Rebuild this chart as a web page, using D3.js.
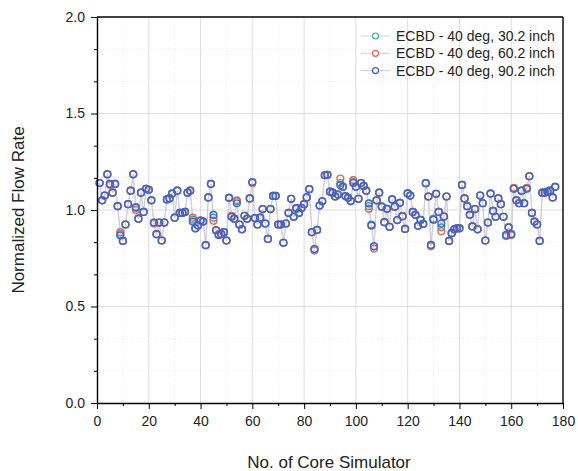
<!DOCTYPE html>
<html>
<head>
<meta charset="utf-8">
<script src="https://cdn.jsdelivr.net/npm/d3@7"></script>
<style>
  body { margin: 0; background: #fff; }
  text { font-family: "Liberation Sans", Arial, sans-serif; }
</style>
</head>
<body>
<svg id="canvas"></svg>
<script>
// data
const coreNo = d3.range(1, 178);

const flow90 = [
  1.14, 1.05, 1.075, 1.185, 1.135, 1.09, 1.135, 1.02, 0.868, 0.84,
  0.925, 1.03, 1.10, 1.185, 1.015, 0.955, 1.09, 0.99, 1.11, 1.105,
  1.05, 0.935, 0.875, 0.935, 0.842, 0.935, 1.055, 1.06, 1.085, 0.96,
  1.10, 0.985, 0.985, 0.99, 1.09, 1.10, 0.94, 0.905, 0.92, 0.945,
  0.94, 0.818, 1.065, 1.135, 0.975, 0.895, 0.87, 0.875, 0.885, 0.842,
  1.063, 0.965, 0.955, 1.035, 0.925, 0.90, 0.97, 0.955, 1.06, 1.145,
  0.958, 0.925, 0.96, 1.005, 0.93, 0.85, 1.005, 1.073, 1.073, 0.925,
  0.925, 0.83, 0.93, 0.985, 1.058, 0.965, 1.01, 0.985, 1.01, 1.03,
  1.065, 1.108, 0.885, 0.798, 0.897, 1.023, 1.045, 1.18, 1.182, 1.095,
  1.09, 1.07, 1.08, 1.128, 1.12, 1.072, 1.063, 1.046, 1.14, 1.12,
  1.058, 1.14, 1.125, 1.10, 1.034, 0.92, 0.812, 1.05, 1.09, 1.017,
  0.937, 1.006, 0.913, 1.055, 1.017, 0.948, 1.037, 0.968, 0.902, 1.086,
  1.075, 0.99, 0.975, 0.918, 0.949, 0.928, 1.139, 1.07, 0.819, 0.95,
  1.084, 0.99, 0.93, 0.966, 1.07, 0.84, 0.88, 0.90, 0.905, 0.905,
  1.13, 1.06, 1.02, 0.975, 0.915, 1.005, 0.90, 1.075, 1.035, 0.842,
  0.935, 1.085, 0.995, 0.965, 1.06, 1.03, 0.965, 0.87, 0.91, 0.875,
  1.11, 1.05, 1.035, 1.10, 1.035, 1.11, 1.175, 0.985, 0.94, 0.925,
  0.84, 1.09, 1.09, 1.095, 1.10, 1.065, 1.12
];

const flow60 = [
  1.14, 1.05, 1.075, 1.185, 1.13, 1.09, 1.135, 1.02, 0.885, 0.84,
  0.925, 1.03, 1.10, 1.185, 1.0, 0.955, 1.09, 0.99, 1.11, 1.105,
  1.05, 0.93, 0.875, 0.935, 0.842, 0.935, 1.055, 1.06, 1.085, 0.96,
  1.10, 0.985, 0.985, 0.99, 1.09, 1.10, 0.96, 0.905, 0.92, 0.945,
  0.94, 0.818, 1.065, 1.135, 0.944, 0.895, 0.875, 0.875, 0.885, 0.842,
  1.063, 0.97, 0.955, 1.05, 0.925, 0.90, 0.97, 0.955, 1.06, 1.14,
  0.958, 0.925, 0.96, 1.005, 0.93, 0.85, 1.005, 1.073, 1.073, 0.925,
  0.925, 0.83, 0.93, 0.985, 1.058, 0.965, 1.01, 0.985, 1.01, 1.03,
  1.065, 1.108, 0.885, 0.79, 0.897, 1.023, 1.045, 1.18, 1.182, 1.095,
  1.09, 1.07, 1.08, 1.163, 1.12, 1.072, 1.063, 1.046, 1.155, 1.12,
  1.058, 1.14, 1.125, 1.10, 1.006, 0.92, 0.80, 1.05, 1.09, 1.017,
  0.937, 1.006, 0.913, 1.055, 1.017, 0.948, 1.037, 0.968, 0.902, 1.086,
  1.075, 0.99, 0.975, 0.918, 0.949, 0.928, 1.139, 1.07, 0.812, 0.95,
  1.084, 0.99, 0.89, 0.966, 1.07, 0.84, 0.88, 0.90, 0.905, 0.905,
  1.13, 1.06, 1.02, 0.975, 0.915, 1.005, 0.90, 1.075, 1.035, 0.842,
  0.935, 1.085, 0.995, 0.965, 1.06, 1.03, 0.965, 0.865, 0.91, 0.87,
  1.115, 1.05, 1.035, 1.10, 1.035, 1.115, 1.175, 0.985, 0.94, 0.925,
  0.84, 1.09, 1.09, 1.095, 1.10, 1.065, 1.12
];

const flow30 = [
  1.14, 1.05, 1.075, 1.185, 1.135, 1.09, 1.135, 1.02, 0.875, 0.84,
  0.925, 1.03, 1.10, 1.185, 1.01, 0.955, 1.09, 0.99, 1.11, 1.105,
  1.05, 0.935, 0.875, 0.935, 0.842, 0.935, 1.055, 1.06, 1.085, 0.96,
  1.10, 0.985, 0.985, 0.99, 1.09, 1.10, 0.95, 0.905, 0.92, 0.945,
  0.94, 0.818, 1.065, 1.135, 0.96, 0.895, 0.87, 0.875, 0.885, 0.842,
  1.063, 0.965, 0.955, 1.045, 0.925, 0.90, 0.97, 0.955, 1.06, 1.145,
  0.958, 0.925, 0.96, 1.005, 0.93, 0.85, 1.005, 1.073, 1.073, 0.925,
  0.925, 0.83, 0.93, 0.985, 1.058, 0.965, 1.005, 0.985, 1.01, 1.03,
  1.065, 1.108, 0.885, 0.798, 0.897, 1.023, 1.045, 1.18, 1.182, 1.095,
  1.09, 1.07, 1.08, 1.14, 1.12, 1.072, 1.063, 1.046, 1.145, 1.12,
  1.058, 1.14, 1.125, 1.10, 1.02, 0.925, 0.812, 1.05, 1.09, 1.017,
  0.937, 1.006, 0.913, 1.055, 1.017, 0.948, 1.037, 0.968, 0.902, 1.086,
  1.075, 0.99, 0.975, 0.918, 0.949, 0.928, 1.139, 1.07, 0.819, 0.955,
  1.084, 0.99, 0.91, 0.966, 1.07, 0.84, 0.88, 0.90, 0.905, 0.905,
  1.13, 1.06, 1.02, 0.975, 0.915, 1.005, 0.90, 1.075, 1.035, 0.842,
  0.935, 1.085, 0.995, 0.965, 1.06, 1.03, 0.965, 0.87, 0.91, 0.875,
  1.11, 1.05, 1.035, 1.10, 1.035, 1.11, 1.175, 0.985, 0.94, 0.925,
  0.84, 1.09, 1.09, 1.095, 1.10, 1.065, 1.12
];

const seriesNames = ["ECBD - 40 deg, 30.2 inch", "ECBD - 40 deg, 60.2 inch", "ECBD - 40 deg, 90.2 inch"];
const xTicks = [0, 20, 40, 60, 80, 100, 120, 140, 160, 180];
const yTicks = [0.0, 0.5, 1.0, 1.5, 2.0];

const colors = ["#3aa6a2", "#e2625e", "#3d64cc"];
const lineColors = ["#bfe0de", "#efc4c2", "#c4cde8"];

const svg = d3.select("#canvas");
const width = 578;
const height = 471;
svg.attr("width", width).attr("height", height);

const marginTop = 17;
const marginRight = 15;
const marginBottom = 68;
const marginLeft = 97;

const xScale = d3.scaleLinear()
    .domain([0, 180])
    .range([marginLeft, width - marginRight]);

const yScale = d3.scaleLinear()
    .domain([0, 2])
    .range([height - marginBottom, marginTop]);

// minor positions (1 minor between x majors, 2 between y majors)
const xMinor = d3.range(10, 180, 20);
const yMinor = d3.range(1, 12).map(i => i / 6).filter((d, i) => (i + 1) % 3 !== 0);

// grid
const grid = svg.append("g");
grid.selectAll(".gx").data(xTicks.slice(1, -1)).join("line")
    .attr("x1", d => xScale(d)).attr("x2", d => xScale(d))
    .attr("y1", yScale(0)).attr("y2", yScale(2))
    .attr("stroke", "#dcdcdc").attr("stroke-width", 1);
grid.selectAll(".gxm").data(xMinor).join("line")
    .attr("x1", d => xScale(d)).attr("x2", d => xScale(d))
    .attr("y1", yScale(0)).attr("y2", yScale(2))
    .attr("stroke", "#ececec").attr("stroke-width", 1).attr("stroke-dasharray", "1,2");
grid.selectAll(".gy").data(yTicks.slice(1, -1)).join("line")
    .attr("x1", xScale(0)).attr("x2", xScale(180))
    .attr("y1", d => yScale(d)).attr("y2", d => yScale(d))
    .attr("stroke", "#dcdcdc").attr("stroke-width", 1);
grid.selectAll(".gym").data(yMinor).join("line")
    .attr("x1", xScale(0)).attr("x2", xScale(180))
    .attr("y1", d => yScale(d)).attr("y2", d => yScale(d))
    .attr("stroke", "#ececec").attr("stroke-width", 1).attr("stroke-dasharray", "1,2");

// series
const allSeries = [flow30, flow60, flow90];
const line = d3.line()
    .x((d, i) => xScale(coreNo[i]))
    .y(d => yScale(d));

allSeries.forEach((vals, s) => {
    svg.append("path")
        .datum(vals)
        .attr("fill", "none")
        .attr("stroke", lineColors[s])
        .attr("stroke-width", 0.8)
        .attr("d", line);
});

allSeries.forEach((vals, s) => {
    svg.append("g")
        .selectAll("circle")
        .data(vals)
        .join("circle")
            .attr("cx", (d, i) => xScale(coreNo[i]))
            .attr("cy", d => yScale(d))
            .attr("r", 3.4)
            .attr("fill", "none")
            .attr("stroke", colors[s])
            .attr("stroke-width", 1.4);
});

// axes
const tickFont = g => g.selectAll("text")
    .attr("font-size", 14)
    .attr("fill", "#222")
    .attr("font-family", "'Liberation Sans', Arial, sans-serif");

svg.append("g")
    .attr("transform", `translate(0,${yScale(0)})`)
    .call(d3.axisBottom(xScale).tickValues(xMinor).tickSize(3).tickFormat(""))
    .call(g => g.select(".domain").remove());

svg.append("g")
    .attr("transform", `translate(0,${yScale(0)})`)
    .call(d3.axisBottom(xScale).tickValues(xTicks).tickSize(6).tickPadding(7).tickSizeOuter(0))
    .call(tickFont)
    .call(g => g.select(".domain").attr("stroke-width", 1.4));

svg.append("g")
    .attr("transform", `translate(${xScale(0)},0)`)
    .call(d3.axisLeft(yScale).tickValues(yMinor).tickSize(3).tickFormat(""))
    .call(g => g.select(".domain").remove());

svg.append("g")
    .attr("transform", `translate(${xScale(0)},0)`)
    .call(d3.axisLeft(yScale).tickValues(yTicks).tickSize(6).tickPadding(6).tickSizeOuter(0).tickFormat(d3.format(".1f")))
    .call(tickFont)
    .call(g => g.select(".domain").attr("stroke-width", 1.4));

// frame top / right
svg.append("line")
    .attr("x1", xScale(0)).attr("x2", xScale(180))
    .attr("y1", yScale(2)).attr("y2", yScale(2))
    .attr("stroke", "#000").attr("stroke-width", 1.4);
svg.append("line")
    .attr("x1", xScale(180)).attr("x2", xScale(180))
    .attr("y1", yScale(2)).attr("y2", yScale(0))
    .attr("stroke", "#000").attr("stroke-width", 1.4);

// axis titles
svg.append("text")
    .attr("x", 329)
    .attr("y", 468)
    .attr("text-anchor", "middle")
    .attr("font-size", 17)
    .attr("fill", "#222")
    .text("No. of Core Simulator");

svg.append("text")
    .attr("transform", `translate(24,${(yScale(0) + yScale(2)) / 2}) rotate(-90)`)
    .attr("text-anchor", "middle")
    .attr("font-size", 17)
    .attr("fill", "#222")
    .text("Normalized Flow Rate");

// legend
const legend = svg.append("g");
seriesNames.forEach((name, i) => {
    const ly = 36 + i * 17.3;
    legend.append("line")
        .attr("x1", 361).attr("x2", 390)
        .attr("y1", ly).attr("y2", ly)
        .attr("stroke", lineColors[i]).attr("stroke-width", 1);
    legend.append("circle")
        .attr("cx", 375.5).attr("cy", ly).attr("r", 3)
        .attr("fill", "#fff").attr("stroke", colors[i]).attr("stroke-width", 1.2);
    legend.append("text")
        .attr("x", 396).attr("y", ly + 5)
        .attr("font-size", 14)
        .attr("fill", "#222")
        .text(name);
});
</script>
</body>
</html>
